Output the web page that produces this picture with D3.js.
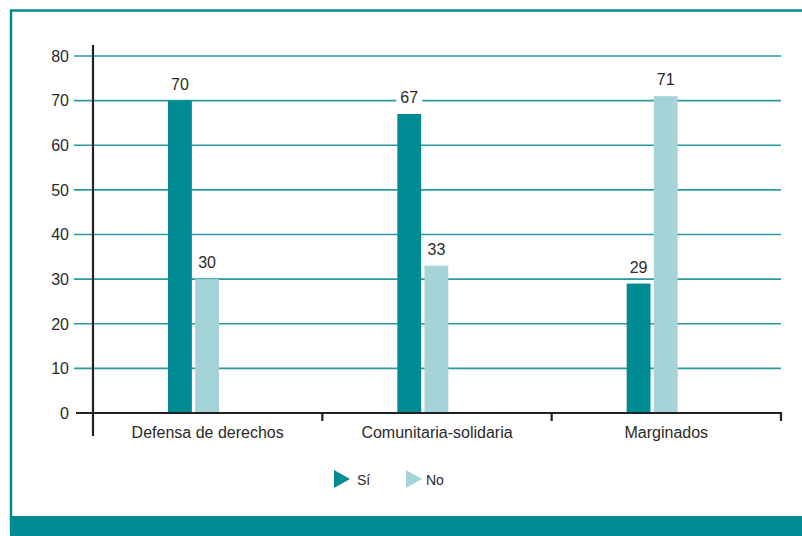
<!DOCTYPE html>
<html><head><meta charset="utf-8">
<script src="https://cdn.jsdelivr.net/npm/d3@7"></script>
<style>body{margin:0;background:#fff}svg{display:block}text{font-family:"Liberation Sans",Arial,sans-serif;fill:#2a2a2a}</style>
</head><body><svg id="c" width="802" height="536"></svg>
<script>
const categories = ["Defensa de derechos","Comunitaria-solidaria","Marginados"];
const seriesNames = ["Sí","No"];
const siValues = [70,67,29];
const noValues = [30,33,71];
const yTicks = [0,10,20,30,40,50,60,70,80];

const teal = "#008b94", light = "#a6d3d8";
const svg = d3.select("#c");
// frame
svg.append("rect").attr("x",11).attr("y",10.5).attr("width",800).attr("height",520).attr("fill","none").attr("stroke",teal).attr("stroke-width",2.5);
svg.append("rect").attr("x",10).attr("y",516).attr("width",792).attr("height",20).attr("fill",teal);

const y = d3.scaleLinear().domain([0,80]).range([413,56]);
const x0 = d3.scaleBand().domain(categories).range([93,781]).padding(0);
const x1 = d3.scaleBand().domain(seriesNames).range([75,126]).paddingInner(0.12);
const color = d3.scaleOrdinal().domain(seriesNames).range([teal,light]);

// gridlines
svg.append("g").selectAll("line").data(yTicks.filter(d=>d>0)).join("line")
  .attr("x1",74).attr("x2",781).attr("y1",d=>y(d)).attr("y2",d=>y(d))
  .attr("stroke","#2a9aa2").attr("stroke-width",1.6);

// y labels
svg.append("g").selectAll("text").data(yTicks).join("text")
  .attr("x",69).attr("y",d=>y(d)).attr("dy","0.36em").attr("text-anchor","end")
  .attr("font-size",16).text(d=>d);

// bars
const data = categories.map((c,i)=>({c, vals:[{s:"Sí",v:siValues[i]},{s:"No",v:noValues[i]}]}));
const groups = svg.append("g").selectAll("g").data(data).join("g")
  .attr("transform",d=>`translate(${x0(d.c)},0)`);
groups.selectAll("rect").data(d=>d.vals).join("rect")
  .attr("x",d=>x1(d.s)).attr("width",x1.bandwidth())
  .attr("y",d=>y(d.v)).attr("height",d=>y(0)-y(d.v)).attr("fill",d=>color(d.s));
// value labels with white knockout
groups.selectAll("g.lbl").data(d=>d.vals).join("g").attr("class","lbl").each(function(d){
  const g = d3.select(this);
  const cx = x1(d.s)+x1.bandwidth()/2;
  g.append("rect").attr("x",cx-13).attr("y",y(d.v)-28).attr("width",26).attr("height",21).attr("fill","#fff");
  g.append("text").attr("x",cx).attr("y",y(d.v)-11).attr("text-anchor","middle").attr("font-size",16).text(d.v);
});

// axes
const ax = svg.append("g").attr("stroke","#222").attr("stroke-width",2.2);
ax.append("line").attr("x1",93).attr("x2",93).attr("y1",45).attr("y2",436);
ax.append("line").attr("x1",76).attr("x2",782).attr("y1",413).attr("y2",413);
ax.selectAll("line.t").data(categories).join("line").attr("class","t")
  .attr("x1",d=>x0(d)+x0.bandwidth()).attr("x2",d=>x0(d)+x0.bandwidth())
  .attr("y1",413).attr("y2",421);

svg.append("g").selectAll("text").data(categories).join("text")
  .attr("x",d=>x0(d)+x0.bandwidth()/2).attr("y",438).attr("text-anchor","middle")
  .attr("font-size",16).text(d=>d);

// legend
const leg = [{s:"Sí",x:334,tx:357},{s:"No",x:406,tx:426}];
const lg = svg.append("g").selectAll("g").data(leg).join("g");
lg.append("path").attr("d",d=>`M${d.x},470 L${d.x+16},479 L${d.x},488 Z`).attr("fill",d=>color(d.s));
lg.append("text").attr("x",d=>d.tx).attr("y",485).attr("font-size",14).text(d=>d.s);
</script></body></html>
